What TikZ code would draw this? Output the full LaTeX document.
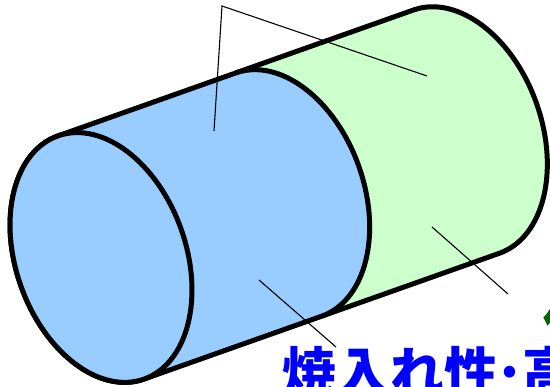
\documentclass[tikz,border=0pt]{standalone}
\usepackage{fontspec}
\newfontfamily\jpfont{Noto Sans CJK JP}
\definecolor{coreblue}{HTML}{99CCFF}
\definecolor{shellgreen}{HTML}{CCFFCC}
\definecolor{labelblue}{HTML}{0000FF}
\definecolor{labelgreen}{HTML}{006600}
\newcommand{\narrowdot}{\hbox to 24pt{\hss·\hss}}
\tikzset{
  outline/.style={draw=black, line width=5pt, line join=round},
  leader/.style={draw=black, line width=1.1pt},
  bigtext/.style={font=\jpfont\bfseries\fontsize{54}{60}\selectfont, inner sep=0pt}
}
\begin{document}
\begin{tikzpicture}[x=1pt,y=1pt]
\useasboundingbox (0,0) rectangle (550,387);
\clip (0,0) rectangle (550,387);
% cylinder in its own frame: axis along local x
\begin{scope}[shift={(101,129.5)}, rotate=19.5]
  % rear (green) section
  \fill[shellgreen] (188.5,129) -- (377,129)
    arc[start angle=90, end angle=-90, x radius=85, y radius=129]
    -- (188.5,-129) -- cycle;
  \draw[outline] (188.5,129) -- (377,129)
    arc[start angle=90, end angle=-90, x radius=85, y radius=129]
    -- (188.5,-129);
  % front (blue) section
  \filldraw[outline, fill=coreblue] (0,129) -- (188.5,129)
    arc[start angle=90, end angle=-90, x radius=85, y radius=129]
    -- (0,-129) arc[start angle=270, end angle=90, x radius=85, y radius=129]
    -- cycle;
  % front end face
  \filldraw[outline, fill=coreblue] (0,0) ellipse[x radius=85, y radius=129];
\end{scope}
% leader lines
\coordinate (apex) at (222,381);
\coordinate (frontpt) at (214,256);
\coordinate (rearpt) at (427,311);
\coordinate (coreA) at (259,107);
\coordinate (coreB) at (336,40);
\coordinate (shellA) at (432,160);
\coordinate (shellB) at (508,93);
\draw[leader] (frontpt) -- (apex) -- (rearpt);
\draw[leader] (coreA) -- (coreB);
\draw[leader] (shellA) -- (shellB);
% labels
\node[bigtext, text=labelblue, anchor=base west] (hardlabel) at (282,-6) {焼入れ性\narrowdot 高};
\node[bigtext, text=labelgreen, anchor=base west] (lowlabel) at (543,42) {低};
\end{tikzpicture}
\end{document}
